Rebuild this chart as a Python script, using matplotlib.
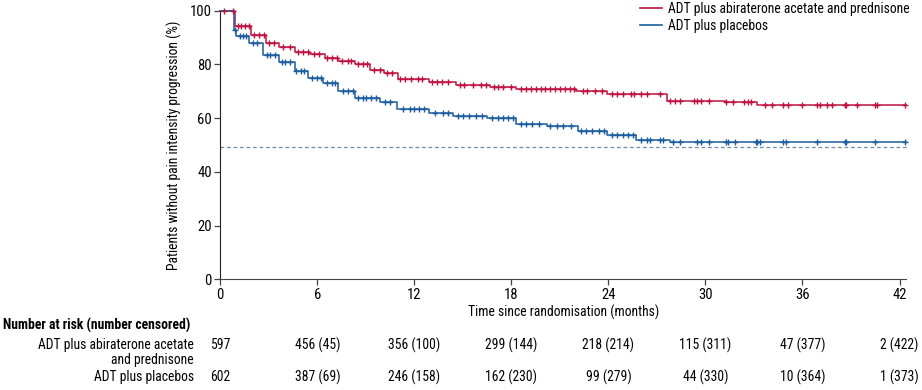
import matplotlib
matplotlib.use("Agg")
import matplotlib.pyplot as plt
import matplotlib.transforms as mtransforms
from matplotlib import font_manager
from matplotlib.lines import Line2D
import numpy as np

# pick a narrow font if we have one
names = {f.name for f in font_manager.fontManager.ttflist}
fams = [f for f in ["Liberation Sans Narrow", "Roboto Condensed", "Lato", "DejaVu Sans"] if f in names]
plt.rcParams["font.family"] = fams
plt.rcParams["font.size"] = 9.8

# Kaplan-Meier steps
red_t = [0, 0.9, 1.9, 2.8, 3.65, 4.6, 5.55, 6.45, 7.3, 8.3, 9.25, 10.1, 11.0,
         12.9, 14.6, 16.7, 18.3, 22.0, 23.9, 27.6, 31.2, 33.2, 42.4]
red_s = [100, 94.4, 91.1, 88.1, 86.6, 84.5, 83.8, 82.5, 81.3, 80.2, 78.0, 76.7, 74.7,
         73.3, 72.3, 71.7, 70.8, 70.1, 68.9, 66.5, 65.9, 65.0, 65.0]

blue_t = [0, 0.85, 0.97, 1.8, 2.66, 3.6, 4.6, 5.45, 6.37, 7.3, 8.33, 9.9, 10.9,
          12.9, 14.4, 16.5, 18.3, 20.2, 22.1, 23.9, 25.7, 27.8, 42.4]
blue_s = [100, 92.8, 90.7, 87.9, 83.5, 81.0, 77.5, 75.1, 73.0, 70.2, 67.4, 66.1, 63.4,
          62.0, 60.8, 59.9, 57.8, 57.2, 55.3, 53.7, 52.0, 51.2, 51.2]

# censoring times (approx.)
red_cens = [0.2, 0.8, 1.1, 1.3, 1.5, 1.8, 2.1, 2.4, 2.7, 3.0, 3.3, 3.9, 4.3, 4.8, 5.1,
            5.4, 5.8, 6.1, 6.6, 6.9, 7.2, 7.5, 7.9, 8.1, 8.5, 8.8, 9.1, 9.5, 9.9, 10.3,
            10.6, 11.1, 11.4, 11.8, 12.2, 12.5, 13.1, 13.4, 13.7, 14.1, 14.8, 15.1,
            15.6, 16.1, 16.4, 16.9, 17.2, 17.5, 18.0, 18.6, 18.9, 19.2, 19.5, 19.8,
            20.1, 20.4, 20.7, 21.0, 21.3, 21.6, 21.9, 22.4, 22.7, 23.2, 23.6, 24.2,
            24.5, 24.9, 25.4, 25.6, 26.0, 26.4, 27.2, 27.8, 28.1, 28.4, 29.3, 29.5,
            29.7, 30.2, 31.3, 31.7, 32.4, 32.6, 32.8, 33.7, 34.1, 34.8, 35.1, 36.0,
            36.9, 37.1, 37.5, 37.8, 38.6, 38.7, 39.4, 40.5, 40.6, 42.35]
blue_cens = [0.9, 1.2, 1.4, 1.6, 2.0, 2.3, 2.9, 3.1, 3.4, 3.8, 4.0, 4.3, 4.7, 5.0, 5.2,
             5.7, 6.0, 6.2, 6.6, 6.9, 7.1, 7.6, 7.9, 8.2, 8.5, 8.8, 9.0, 9.3, 9.6, 10.2,
             10.5, 11.3, 11.7, 12.0, 12.3, 12.6, 13.3, 13.8, 14.1, 14.7, 15.0, 15.4,
             15.8, 16.2, 16.8, 17.2, 17.5, 17.8, 18.1, 18.6, 18.9, 19.3, 19.7, 20.4,
             20.8, 21.2, 21.7, 22.3, 22.6, 23.0, 23.4, 23.7, 24.2, 24.5, 24.9, 25.2,
             25.5, 26.0, 26.4, 26.6, 27.2, 27.4, 28.0, 28.4, 29.5, 29.7, 30.2, 31.3,
             31.4, 31.8, 33.1, 33.2, 33.4, 34.8, 35.0, 36.9, 38.6, 38.7, 40.5, 42.35]

median_line = 49.3

risk_times = [0, 6, 12, 18, 24, 30, 36, 42]
red_risk = ["597", "456 (45)", "356 (100)", "299 (144)", "218 (214)", "115 (311)",
            "47 (377)", "2 (422)"]
blue_risk = ["602", "387 (69)", "246 (158)", "162 (230)", "99 (279)", "44 (330)",
             "10 (364)", "1 (373)"]

red_label = "ADT plus abiraterone acetate and prednisone"
blue_label = "ADT plus placebos"
red_c = "#BE1340"
blue_c = "#1B5D9E"


def surv_at(times, surv, x):
    idx = np.searchsorted(times, x, side="right") - 1
    return np.array(surv)[idx]


fig = plt.figure(figsize=(9.22, 3.9), dpi=100)
ax = fig.add_axes([220.3 / 922, 1 - 279.3 / 390, (906 - 220.3) / 922, (279.3 - 10.7) / 390])

ax.axhline(median_line, color="#6d8cab", lw=0.9, ls=(0, (3, 2.2)), xmin=0, xmax=1.005, clip_on=False)

for t, s, cens, c in [(red_t, red_s, red_cens, red_c), (blue_t, blue_s, blue_cens, blue_c)]:
    ax.step(t, s, where="post", color=c, lw=1.1, clip_on=False, zorder=3)
    ax.plot(cens, surv_at(t, s, cens), ls="none", marker="+", ms=4.2, mew=1.0,
            color=c, clip_on=False, zorder=4)

ax.set_xlim(0, 42.4)
ax.set_ylim(0, 100)
ax.set_xticks(risk_times)
ax.set_yticks([0, 20, 40, 60, 80, 100])
ax.spines["top"].set_visible(False)
ax.spines["right"].set_visible(False)
ax.spines["left"].set_color("#222222")
ax.spines["bottom"].set_color("#444444")
ax.tick_params(length=4, width=0.9, color="#444444", labelsize=10.5, pad=2)
ax.set_xlabel("Time since randomisation (months)", labelpad=2)
ax.set_ylabel("Patients without pain intensity progression (%)", labelpad=6)

handles = [Line2D([], [], color=red_c, lw=1.2), Line2D([], [], color=blue_c, lw=1.2)]
fig.legend(handles, [red_label, blue_label], loc="upper left",
           bbox_to_anchor=(640 / 922, 0.995), frameon=False, borderpad=0,
           borderaxespad=0, handlelength=1.6, handletextpad=0.45, labelspacing=0.2)

# number at risk table
trans = mtransforms.blended_transform_factory(ax.transData, fig.transFigure)
fig.text(3 / 922, 1 - 325 / 390, "Number at risk (number censored)", weight="bold",
         va="center", ha="left")
fig.text(194 / 922, 1 - 345 / 390, "ADT plus abiraterone acetate", va="center", ha="right")
fig.text(194 / 922, 1 - 360 / 390, "and prednisone", va="center", ha="right")
fig.text(194 / 922, 1 - 377 / 390, "ADT plus placebos", va="center", ha="right")
for x, a, b in zip(risk_times, red_risk, blue_risk):
    ax.text(x, 1 - 345 / 390, a, transform=trans, ha="center", va="center")
    ax.text(x, 1 - 377 / 390, b, transform=trans, ha="center", va="center")

fig.savefig("out.png", dpi=100)
